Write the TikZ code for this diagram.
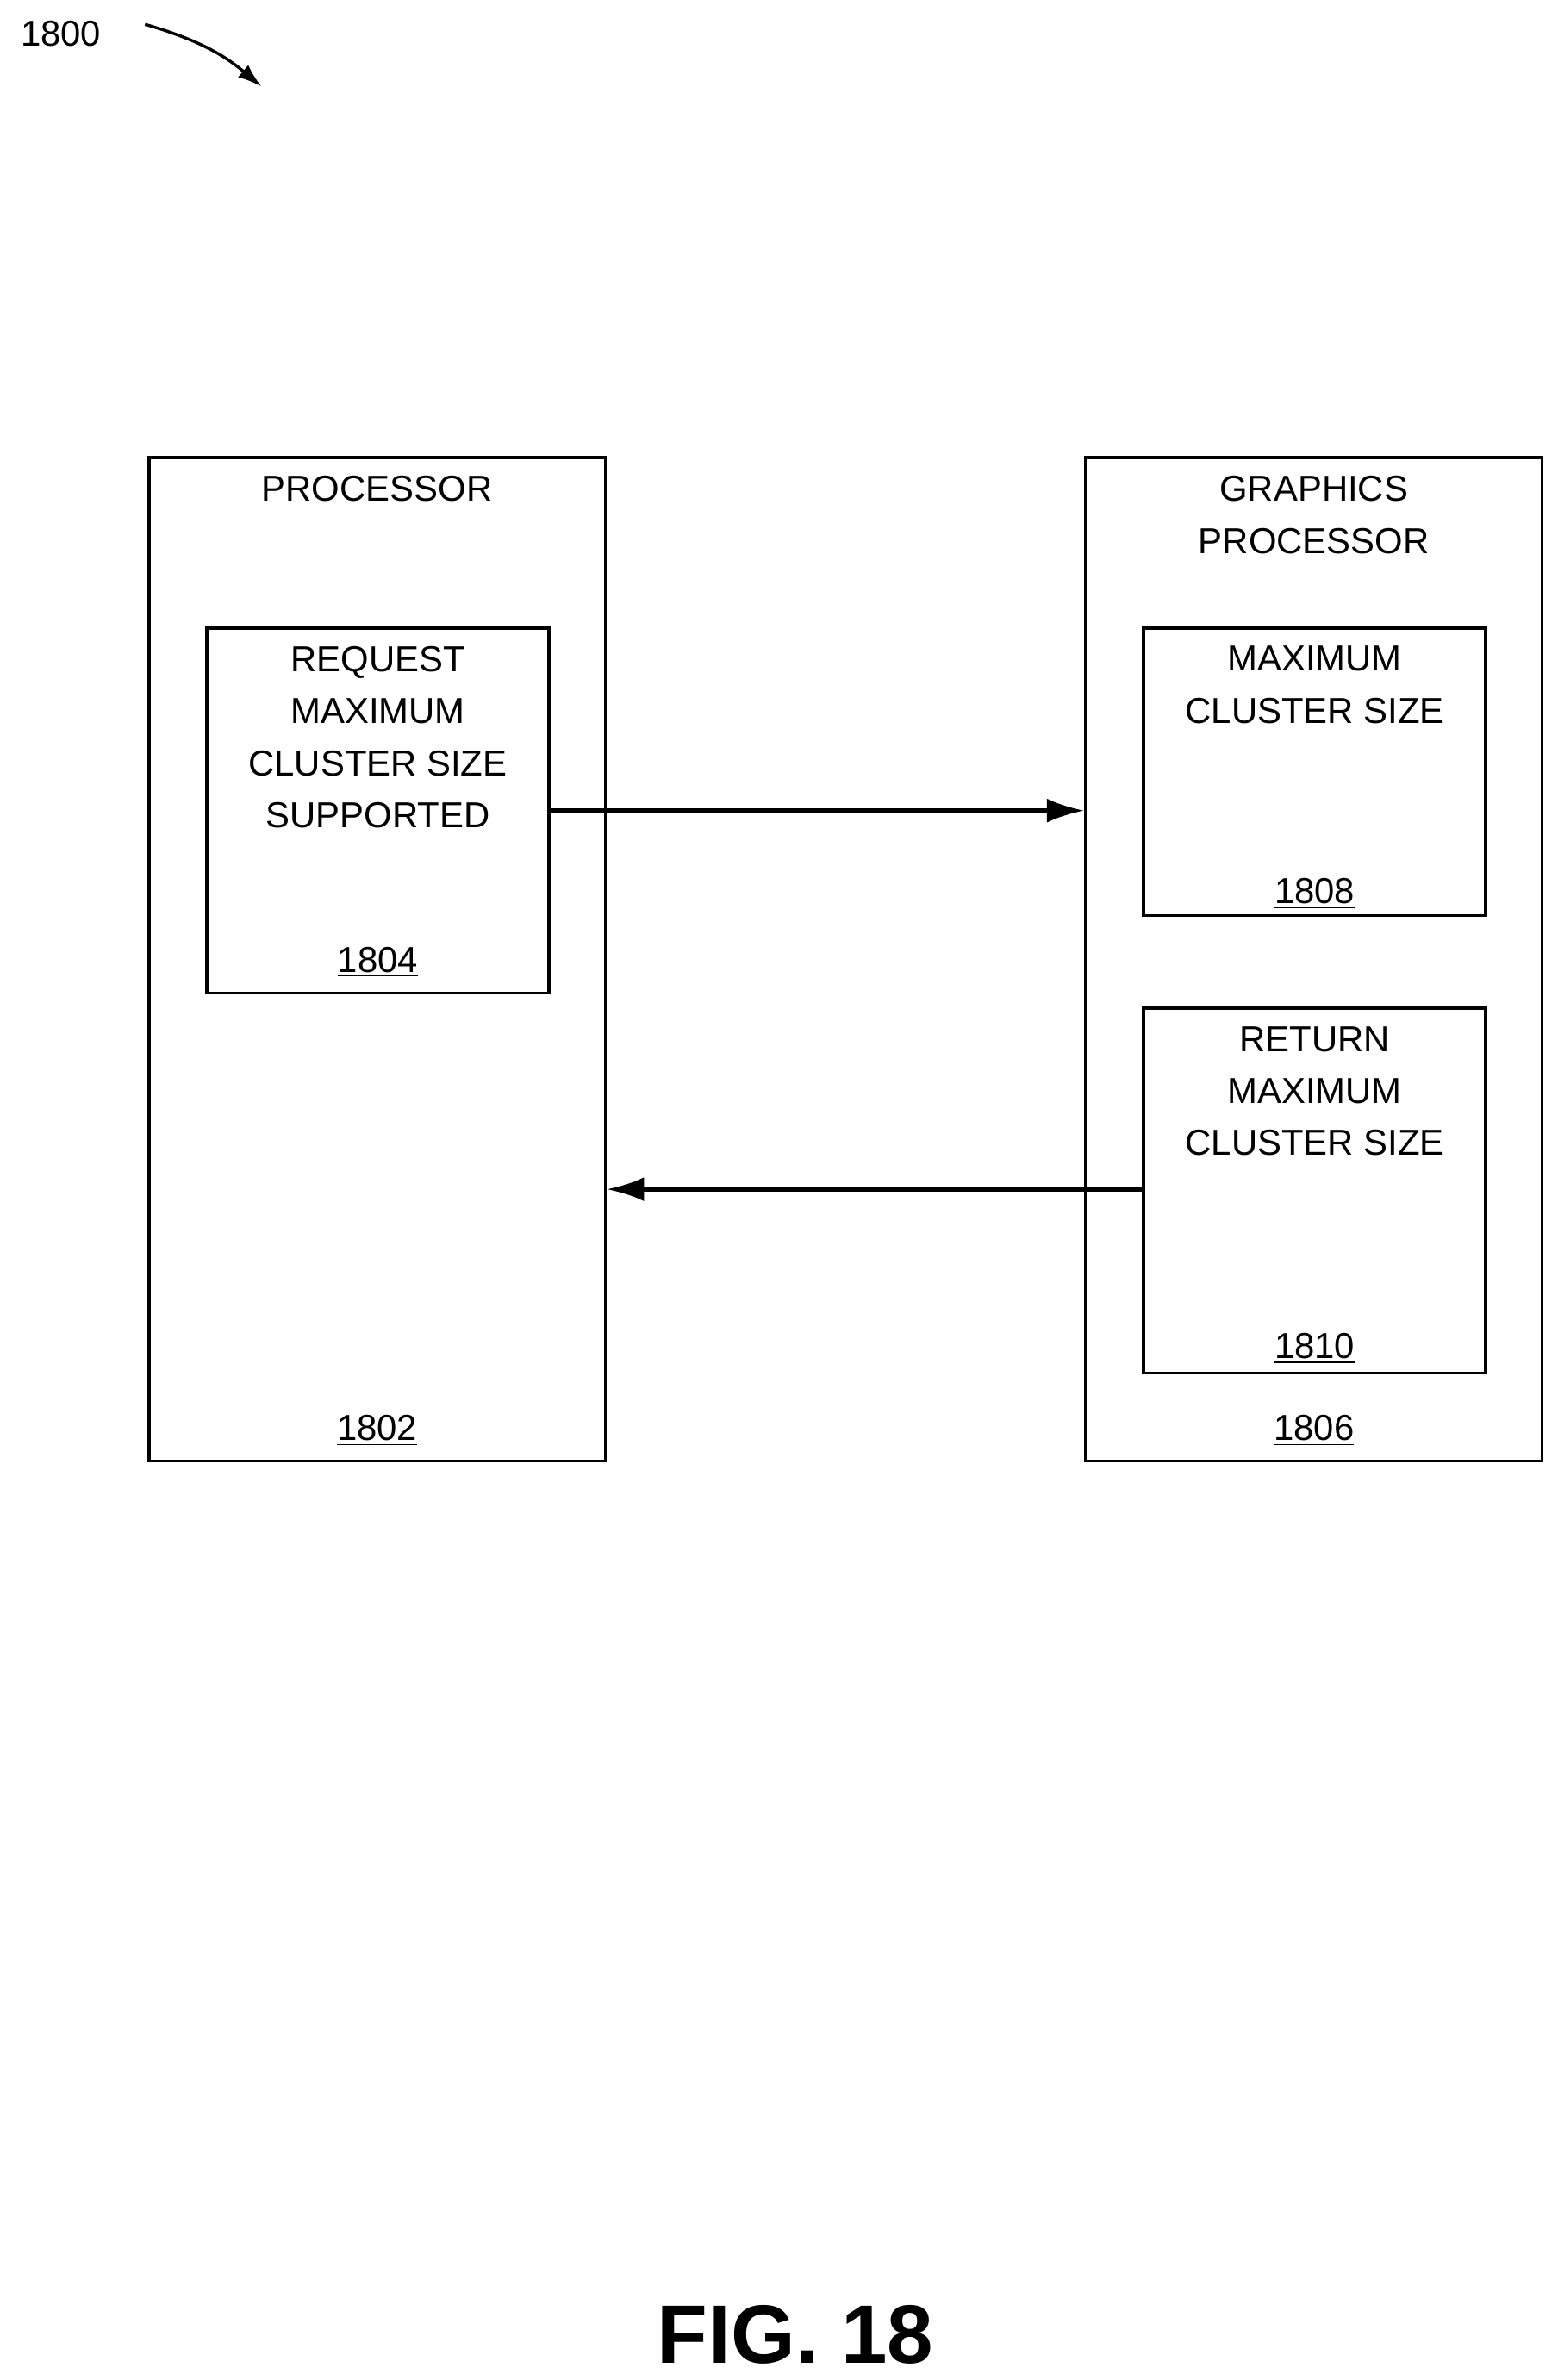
\documentclass[tikz,border=0pt]{standalone}
\usepackage{fontspec}
\setmainfont{Liberation Sans}
\usetikzlibrary{positioning, calc, arrows.meta}

\begin{document}
\begin{tikzpicture}[x=0.02cm, y=-0.02cm, line width=1.1pt]
    % Define block styles
    \tikzset{
        box/.style={draw, rectangle, inner sep=0pt},
        txt/.style={align=center, font=\fontsize{13.5}{19.5}\selectfont, inner sep=0pt},
        link/.style={-{Latex[length=14pt, width=9pt]}, line width=1.6pt}
    }
    \useasboundingbox (0,0) rectangle (1024,1565);

    % Place boxes
    \node [box, minimum width=6cm, minimum height=13.2cm, anchor=north west] (proc) at (97,300) {};
    \node [box, minimum width=6cm, minimum height=13.2cm, anchor=north west] (gpu) at (713,300) {};
    \node [box, minimum width=4.5cm, minimum height=4.8cm, anchor=north west] (request) at (135,412) {};
    \node [box, minimum width=4.5cm, minimum height=3.78cm, anchor=north west] (maxsize) at (751,412) {};
    \node [box, minimum width=4.5cm, minimum height=4.8cm, anchor=north west] (ret) at (751,662) {};

    % Texts
    \node [txt, anchor=north] at ($(proc.north)+(0,12)$) {PROCESSOR};
    \node [txt, anchor=north] at ($(gpu.north)+(0,12)$) {GRAPHICS\\PROCESSOR};
    \node [txt, anchor=north] at ($(request.north)+(0,12)$) {REQUEST\\MAXIMUM\\CLUSTER SIZE\\SUPPORTED};
    \node [txt, anchor=north] at ($(maxsize.north)+(0,12)$) {MAXIMUM\\CLUSTER SIZE};
    \node [txt, anchor=north] at ($(ret.north)+(0,12)$) {RETURN\\MAXIMUM\\CLUSTER SIZE};
    \node [txt, anchor=south] at ($(proc.south)+(0,-10)$) {\underline{1802}};
    \node [txt, anchor=south] at ($(gpu.south)+(0,-10)$) {\underline{1806}};
    \node [txt, anchor=south] at ($(request.south)+(0,-10)$) {\underline{1804}};
    \node [txt, anchor=south] at ($(maxsize.south)+(0,-4)$) {\underline{1808}};
    \node [txt, anchor=south] at ($(ret.south)+(0,-6)$) {\underline{1810}};

    % Draw connections as arrows
    \draw [link] (request.east |- 0,533) -- (gpu.west |- 0,533);
    \draw [link] (ret.west |- 0,782) -- (proc.east |- 0,782);

    % Figure number and label
    \node [txt] (fignum) at (40,22) {1800};
    \coordinate (figtip) at (172,57);
    \draw [-{Latex[length=9pt, width=6pt]}] ($(fignum.east)+(28,-6)$) to[bend left=12] (figtip);
    \node [font=\fontsize{31}{36}\selectfont\bfseries] (caption) at (523,1535) {FIG. 18};
\end{tikzpicture}
\end{document}
